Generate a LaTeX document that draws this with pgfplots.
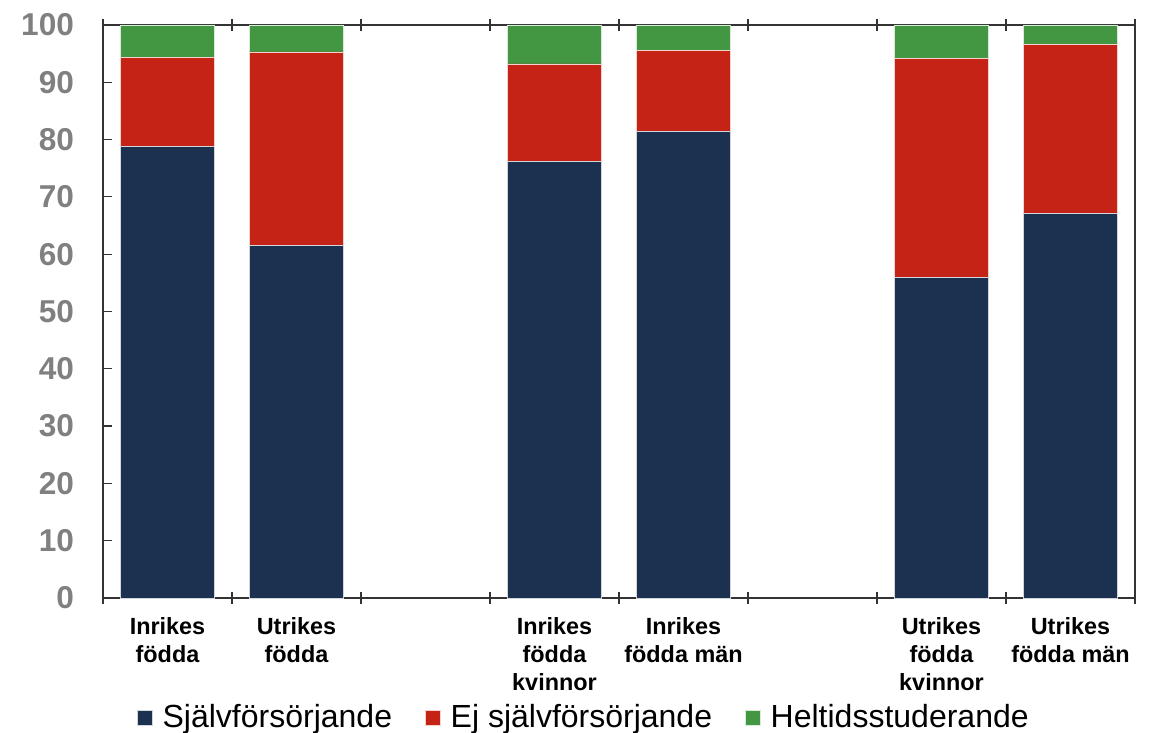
\documentclass[border=0pt]{standalone}
\usepackage{pgfplots}
\pgfplotsset{compat=1.18}
\usepackage{fontspec}
\setmainfont{Liberation Sans}
\definecolor{navy}{RGB}{28,48,80}
\definecolor{cred}{RGB}{197,35,22}
\definecolor{cgreen}{RGB}{67,151,67}
\definecolor{tgray}{RGB}{128,128,128}
\begin{document}
\begin{tikzpicture}
\useasboundingbox (-51.5pt,-67.5pt) rectangle (524.5pt,299pt);
\begin{axis}[
  at={(0,0)}, anchor=south west,
  scale only axis, width=516pt, height=286.5pt,
  xmin=0, xmax=8, ymin=0, ymax=100,
  ybar stacked, bar width=0.73,
  axis line style={black!80, line width=0.8pt},
  xtick={0,1,...,8}, xticklabels={},
  xtick align=center, major tick length=6pt,
  tick style={black!80, line width=0.6pt},
  extra x ticks={0.5,1.5,3.5,4.5,6.5,7.5},
  extra x tick labels={Inrikes\\födda, Utrikes\\födda, Inrikes\\födda\\kvinnor, Inrikes\\födda män, Utrikes\\födda\\kvinnor, Utrikes\\födda män},
  extra x tick style={major tick length=0pt, tick style={draw=none},
    xticklabel style={font=\bfseries\fontsize{11.7}{14}\selectfont, align=center, yshift=-6pt}},
  ytick={0,10,...,100},
  ytick pos=left,
  ytick style={/pgfplots/major tick length=4.5pt, /pgfplots/tick align=inside},
  yticklabel style={font=\bfseries\fontsize{15.8}{18}\selectfont, text=tgray, xshift=-11pt},
  /pgf/number format/assume math mode=true,
  legend columns=3,
  legend style={draw=none, at={(0.465,-0.209)}, anchor=center,
    font=\fontsize{16}{19}\selectfont,
    nodes={inner sep=0pt},
    column sep=5pt,
    /tikz/every even column/.append style={column sep=16.5pt}},
  legend image code/.code={\fill[#1] (0pt,-3.75pt) rectangle (7.5pt,3.75pt);},
  clip=false,
]
\addplot[fill=navy, draw=white!80!navy, line width=0.3pt] coordinates {(0.5,78.8) (1.5,61.5) (3.5,76.2) (4.5,81.4) (6.5,56.0) (7.5,67.1)};
\addplot[fill=cred, draw=white!80!cred, line width=0.3pt] coordinates {(0.5,15.6) (1.5,33.8) (3.5,17.0) (4.5,14.1) (6.5,38.2) (7.5,29.5)};
\addplot[fill=cgreen, draw=white!80!cgreen, line width=0.3pt] coordinates {(0.5,5.6) (1.5,4.7) (3.5,6.8) (4.5,4.5) (6.5,5.8) (7.5,3.4)};
\legend{Självförsörjande, Ej självförsörjande, Heltidsstuderande}
\end{axis}
\end{tikzpicture}
\end{document}
